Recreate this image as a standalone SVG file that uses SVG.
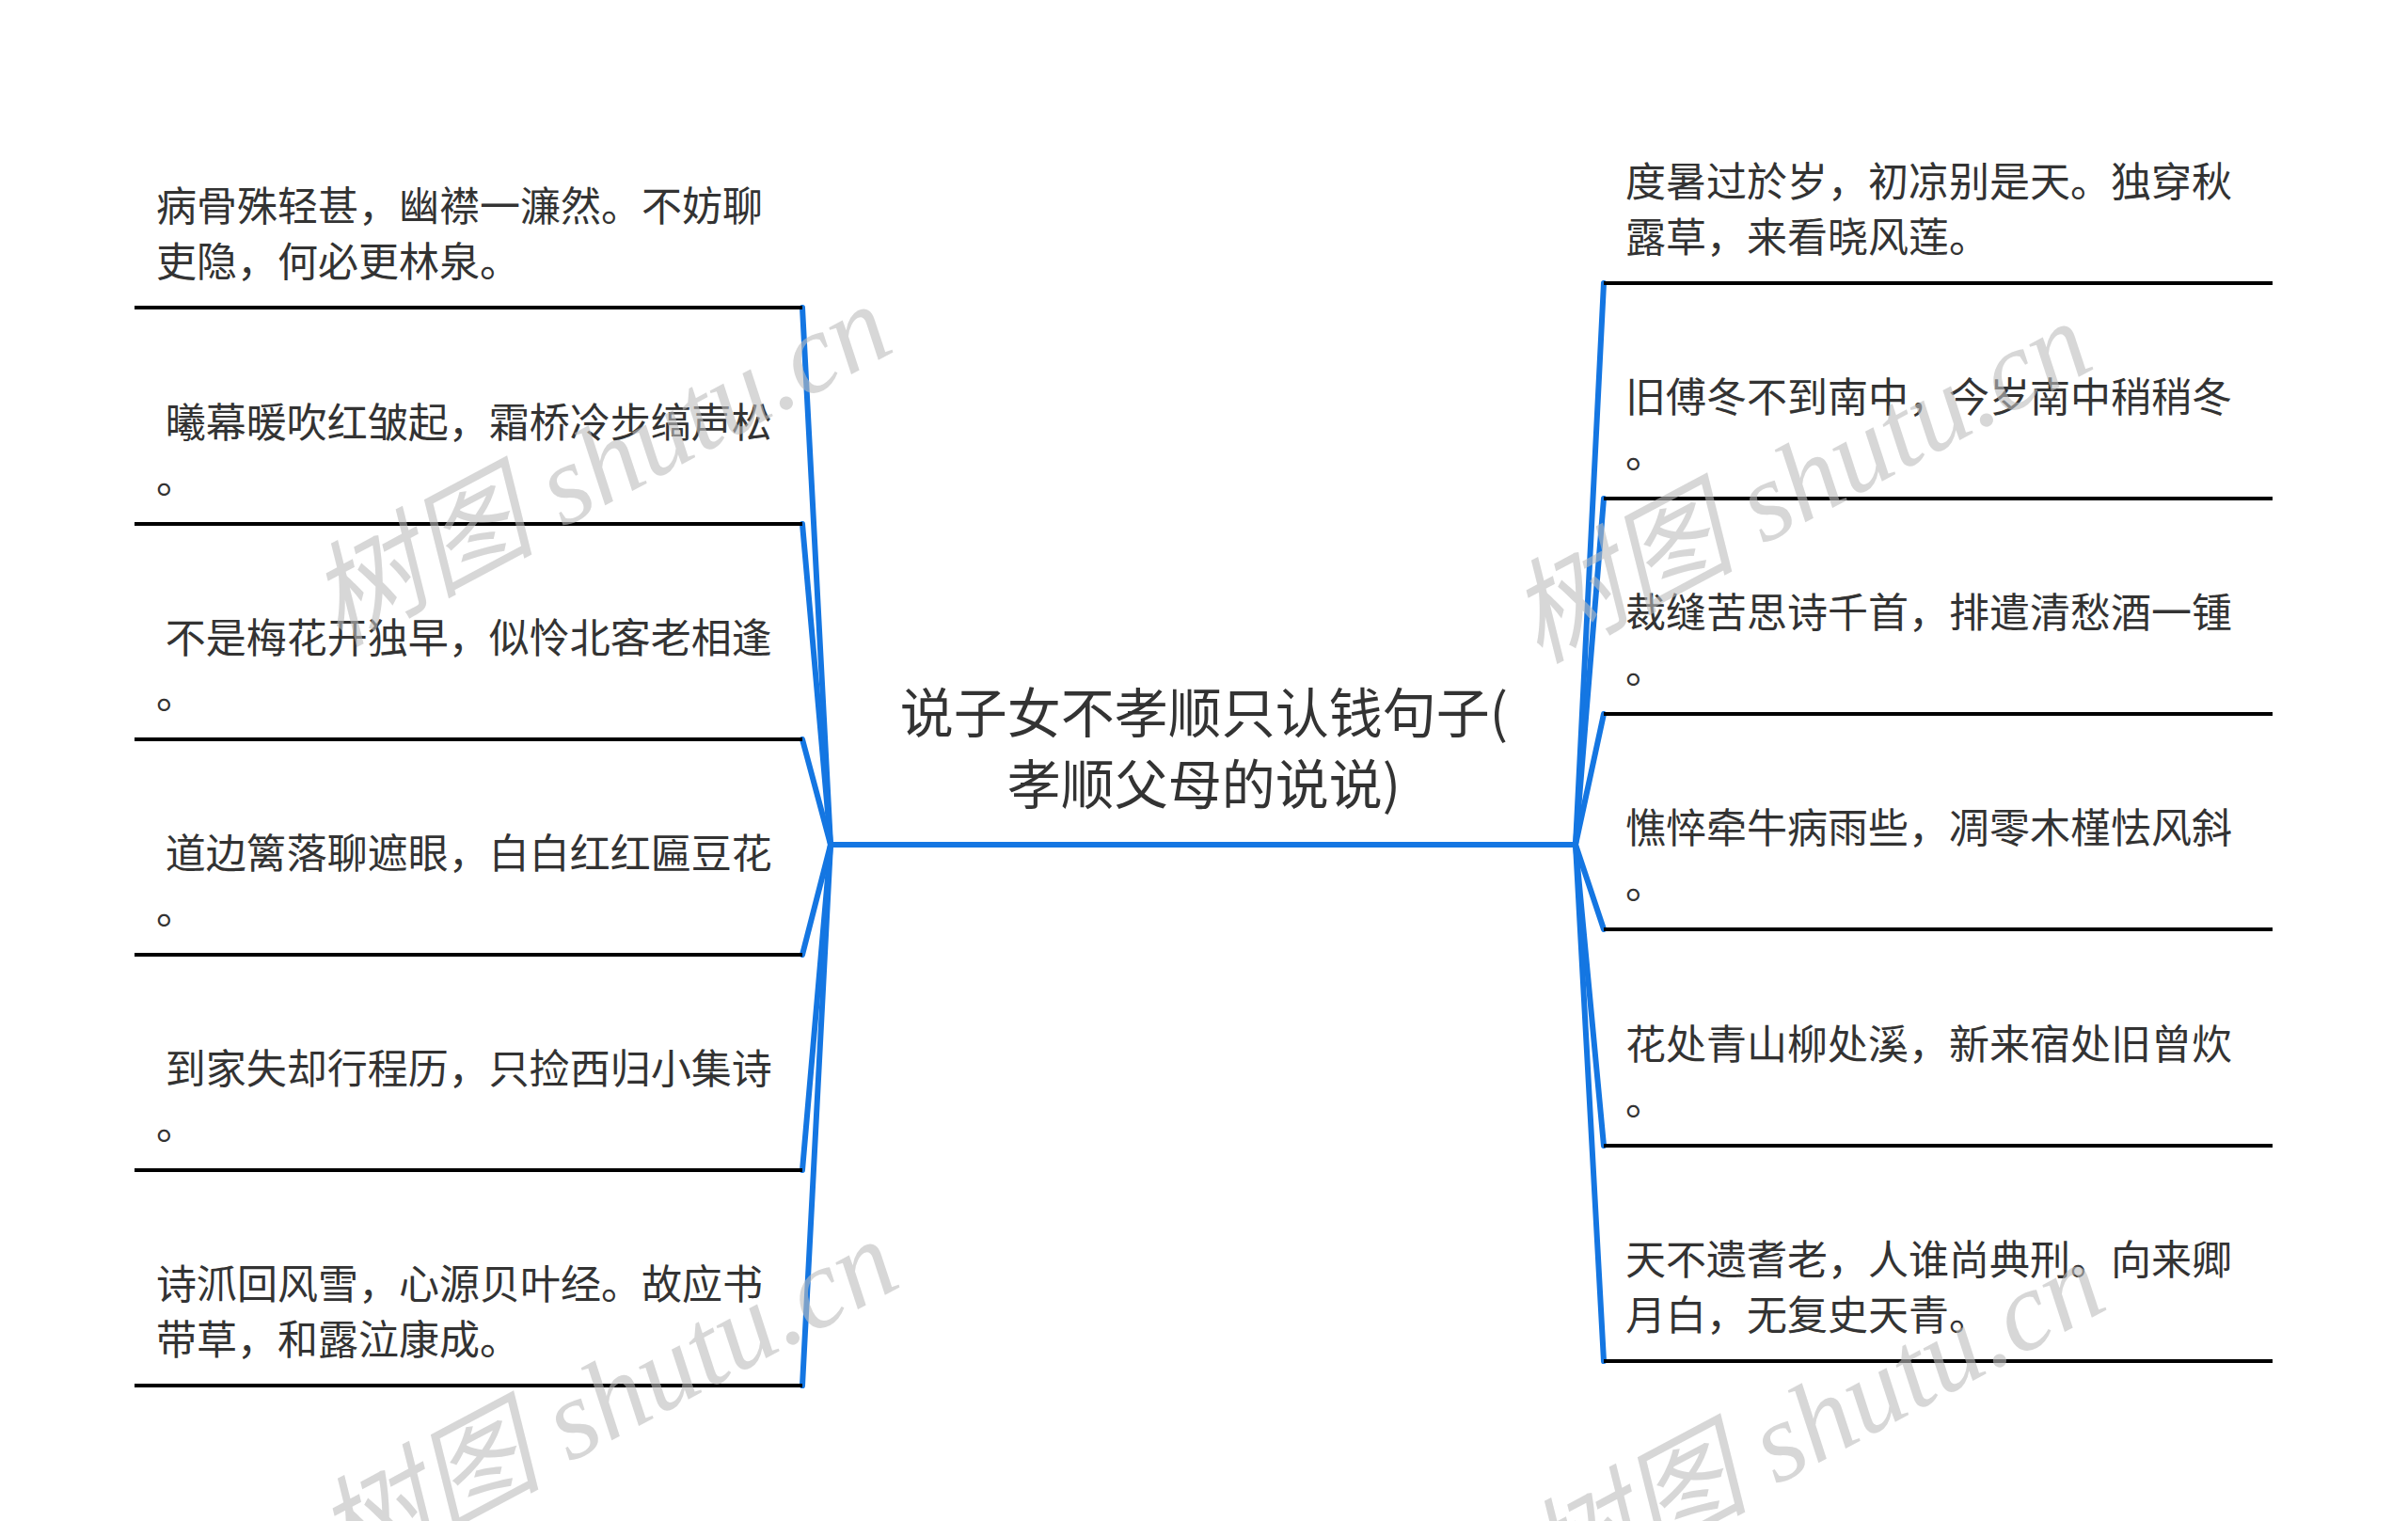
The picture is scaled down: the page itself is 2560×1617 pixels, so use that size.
<svg xmlns="http://www.w3.org/2000/svg" width="2560" height="1617" viewBox="0 0 2560 1617">
<style>
.t{font-family:"Noto Sans CJK SC","Noto Sans",sans-serif;font-size:43px;fill:#333333}
.c{font-family:"Noto Sans CJK SC","Noto Sans",sans-serif;font-size:57px;fill:#333333;text-anchor:middle}
.u{stroke:#000000;stroke-width:4;fill:none}
.k{stroke:#1476e2;stroke-width:6;fill:none;stroke-linecap:round}
.w{font-family:"Liberation Serif","Noto Sans CJK SC",serif;font-style:italic;font-size:120px;fill:#bdbdbd;fill-opacity:0.6;text-anchor:middle;dominant-baseline:central}
</style>
<rect width="2560" height="1617" fill="#ffffff"/>
<g id="connectors">
<line class="k" x1="883" y1="898" x2="1675" y2="898"/>
<line class="k" x1="883" y1="898" x2="853" y2="327"/>
<line class="k" x1="883" y1="898" x2="853" y2="557"/>
<line class="k" x1="883" y1="898" x2="853" y2="786"/>
<line class="k" x1="883" y1="898" x2="853" y2="1015"/>
<line class="k" x1="883" y1="898" x2="853" y2="1244"/>
<line class="k" x1="883" y1="898" x2="853" y2="1473"/>
<line class="k" x1="1675" y1="898" x2="1705" y2="301"/>
<line class="k" x1="1675" y1="898" x2="1705" y2="530"/>
<line class="k" x1="1675" y1="898" x2="1705" y2="759"/>
<line class="k" x1="1675" y1="898" x2="1705" y2="988"/>
<line class="k" x1="1675" y1="898" x2="1705" y2="1218"/>
<line class="k" x1="1675" y1="898" x2="1705" y2="1447"/>
</g>
<g id="center">
<text class="c" x="1280" y="779">说子女不孝顺只认钱句子(</text>
<text class="c" x="1280" y="855">孝顺父母的说说)</text>
</g>
<g id="left1">
<line class="u" x1="143" y1="327" x2="853" y2="327"/>
<text class="t" x="166" y="235">病骨殊轻甚，幽襟一濂然。不妨聊</text>
<text class="t" x="166" y="294">吏隐，何必更林泉。</text>
</g>
<g id="left2">
<line class="u" x1="143" y1="557" x2="853" y2="557"/>
<text class="t" x="166" y="465" xml:space="preserve"> 曦幕暖吹红皱起，霜桥冷步缟声松</text>
<text class="t" x="166" y="524">。</text>
</g>
<g id="left3">
<line class="u" x1="143" y1="786" x2="853" y2="786"/>
<text class="t" x="166" y="694" xml:space="preserve"> 不是梅花开独早，似怜北客老相逢</text>
<text class="t" x="166" y="753">。</text>
</g>
<g id="left4">
<line class="u" x1="143" y1="1015" x2="853" y2="1015"/>
<text class="t" x="166" y="923" xml:space="preserve"> 道边篱落聊遮眼，白白红红匾豆花</text>
<text class="t" x="166" y="982">。</text>
</g>
<g id="left5">
<line class="u" x1="143" y1="1244" x2="853" y2="1244"/>
<text class="t" x="166" y="1152" xml:space="preserve"> 到家失却行程历，只捡西归小集诗</text>
<text class="t" x="166" y="1211">。</text>
</g>
<g id="left6">
<line class="u" x1="143" y1="1473" x2="853" y2="1473"/>
<text class="t" x="166" y="1381">诗沠回风雪，心源贝叶经。故应书</text>
<text class="t" x="166" y="1440">带草，和露泣康成。</text>
</g>
<g id="right1">
<line class="u" x1="1705" y1="301" x2="2416" y2="301"/>
<text class="t" x="1728" y="209">度暑过於岁，初凉别是天。独穿秋</text>
<text class="t" x="1728" y="268">露草，来看晓风莲。</text>
</g>
<g id="right2">
<line class="u" x1="1705" y1="530" x2="2416" y2="530"/>
<text class="t" x="1728" y="438">旧傅冬不到南中，今岁南中稍稍冬</text>
<text class="t" x="1728" y="497">。</text>
</g>
<g id="right3">
<line class="u" x1="1705" y1="759" x2="2416" y2="759"/>
<text class="t" x="1728" y="667">裁缝苦思诗千首，排遣清愁酒一锺</text>
<text class="t" x="1728" y="726">。</text>
</g>
<g id="right4">
<line class="u" x1="1705" y1="988" x2="2416" y2="988"/>
<text class="t" x="1728" y="896">憔悴牵牛病雨些，凋零木槿怯风斜</text>
<text class="t" x="1728" y="955">。</text>
</g>
<g id="right5">
<line class="u" x1="1705" y1="1218" x2="2416" y2="1218"/>
<text class="t" x="1728" y="1126">花处青山柳处溪，新来宿处旧曾炊</text>
<text class="t" x="1728" y="1185">。</text>
</g>
<g id="right6">
<line class="u" x1="1705" y1="1447" x2="2416" y2="1447"/>
<text class="t" x="1728" y="1355">天不遗耆老，人谁尚典刑。向来卿</text>
<text class="t" x="1728" y="1414">月白，无复史天青。</text>
</g>
<g id="watermarks">
<text class="w" transform="translate(638,494) rotate(-28)">树图 shutu.cn</text>
<text class="w" transform="translate(1914,512) rotate(-28)">树图 shutu.cn</text>
<text class="w" transform="translate(645,1488) rotate(-28)">树图 shutu.cn</text>
<text class="w" transform="translate(1928,1512) rotate(-28)">树图 shutu.cn</text>
</g>
</svg>
